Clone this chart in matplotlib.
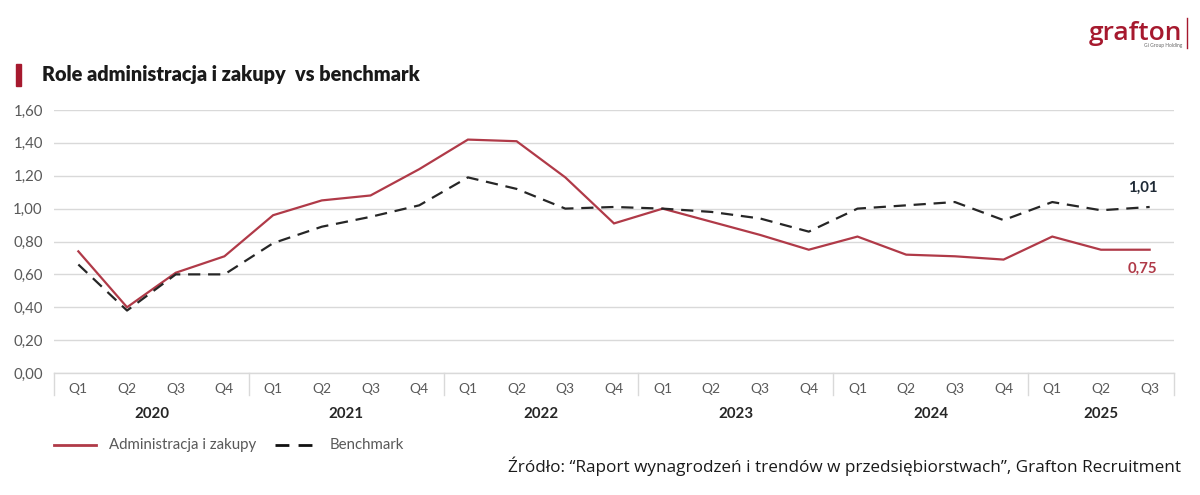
import matplotlib
matplotlib.use("Agg")
import matplotlib.pyplot as plt
import matplotlib.transforms as mtransforms
from matplotlib.patches import Rectangle
from matplotlib.lines import Line2D

quarters = ["Q1", "Q2", "Q3", "Q4"] * 5 + ["Q1", "Q2", "Q3"]
years = ["2020", "2021", "2022", "2023", "2024", "2025"]
year_sizes = [4, 4, 4, 4, 4, 3]
admin = [0.74, 0.40, 0.61, 0.71, 0.96, 1.05, 1.08, 1.24, 1.42, 1.41, 1.19, 0.91,
         1.00, 0.92, 0.84, 0.75, 0.83, 0.72, 0.71, 0.69, 0.83, 0.75, 0.75]
bench = [0.66, 0.38, 0.60, 0.60, 0.79, 0.89, 0.95, 1.02, 1.19, 1.12, 1.00, 1.01,
         1.00, 0.98, 0.94, 0.86, 1.00, 1.02, 1.04, 0.93, 1.04, 0.99, 1.01]
yticks = [0.0, 0.2, 0.4, 0.6, 0.8, 1.0, 1.2, 1.4, 1.6]

RED = "#b03a48"
DARK = "#262626"
GRID = "#d9d9d9"
W, H = 1200, 495

plt.rcParams['font.family'] = ['Lato', 'DejaVu Sans']

fig = plt.figure(figsize=(W / 100, H / 100), dpi=100)
fig.patch.set_facecolor("white")

def fx(px):
    return px / W

def fy(py):
    return 1 - py / H

ax = fig.add_axes([fx(54), fy(373), fx(1174) - fx(54), fy(110) - fy(373)])
x = list(range(len(admin)))
ax.plot(x, admin, color=RED, lw=1.6, solid_joinstyle="miter", zorder=3)
ax.plot(x, bench, color=DARK, lw=1.6, dashes=(5.5, 3.5), zorder=3)

ax.set_xlim(-0.5, len(admin) - 0.5)
ax.set_ylim(0, 1.6)
ax.set_yticks(yticks)
ax.set_yticklabels([f"{v:.2f}".replace(".", ",") for v in yticks], color="#595959", fontsize=10.8)
ax.yaxis.grid(True, color=GRID, lw=1)
ax.set_axisbelow(True)
ax.tick_params(axis="y", length=0, pad=8)
ax.set_xticks(x)
ax.set_xticklabels(quarters, color="#595959", fontsize=10)
ax.tick_params(axis="x", length=0, pad=7)
for s in ["top", "right", "left"]:
    ax.spines[s].set_visible(False)
ax.spines["bottom"].set_color(GRID)
ax.spines["bottom"].set_linewidth(1)

trans = mtransforms.blended_transform_factory(ax.transData, ax.transAxes)
bounds = [-0.5]
for n in year_sizes:
    bounds.append(bounds[-1] + n)
for b in bounds:
    ax.plot([b, b], [0, -0.085], transform=trans, color=GRID, lw=1, clip_on=False)
start = -0.5
for yr, n in zip(years, year_sizes):
    ax.text(start + n / 2, -0.155, yr, transform=trans, ha="center", va="center",
            fontsize=10.8, fontweight="bold", color="#262626")
    start += n

ax.annotate("1,01", (x[-1], bench[-1]), xytext=(-5, 14), textcoords="offset points",
            ha="center", va="center", fontsize=10.8, fontweight="bold", color="#1f2a36")
ax.annotate("0,75", (x[-1], admin[-1]), xytext=(-5, -14), textcoords="offset points",
            ha="center", va="center", fontsize=10.8, fontweight="bold", color=RED)

# Title with red marker
fig.patches.append(Rectangle((fx(16), fy(86)), fx(5), fy(64) - fy(86), transform=fig.transFigure,
                             color="#a6192e", zorder=5))
fig.text(fx(42), fy(75), "Role administracja i zakupy  vs benchmark", fontsize=14.3,
         fontweight="heavy", color="#1a1a1a", va="center", ha="left")

# Logo
fig.text(fx(1182), fy(33), "grafton", fontsize=19, color="#a6192e", ha="right", va="center",
         family=["Open Sans", "DejaVu Sans"], fontweight="semibold")
fig.text(fx(1182), fy(46), "Gi Group Holding", fontsize=3.5, color="#666666", ha="right", va="center")
fig.add_artist(Line2D([fx(1187), fx(1187)], [fy(18), fy(48)], color="#a6192e", lw=1))

# Legend
fig.add_artist(Line2D([fx(54), fx(96)], [fy(445), fy(445)], color=RED, lw=2))
fig.text(fx(109), fy(445), "Administracja i zakupy", fontsize=10.8, color="#595959", va="center")
fig.add_artist(Line2D([fx(275), fx(318)], [fy(445), fy(445)], color="#111111", lw=2, dashes=(5, 3.3)))
fig.text(fx(330), fy(445), "Benchmark", fontsize=10.8, color="#595959", va="center")

# Source
fig.text(fx(1181), fy(466), "Źródło: “Raport wynagrodzeń i trendów w przedsiębiorstwach”, Grafton Recruitment",
         fontsize=12.35, color="#1a1a1a", ha="right", va="center", family=["Open Sans", "DejaVu Sans"])

fig.savefig("out.png", dpi=100, facecolor="white")
